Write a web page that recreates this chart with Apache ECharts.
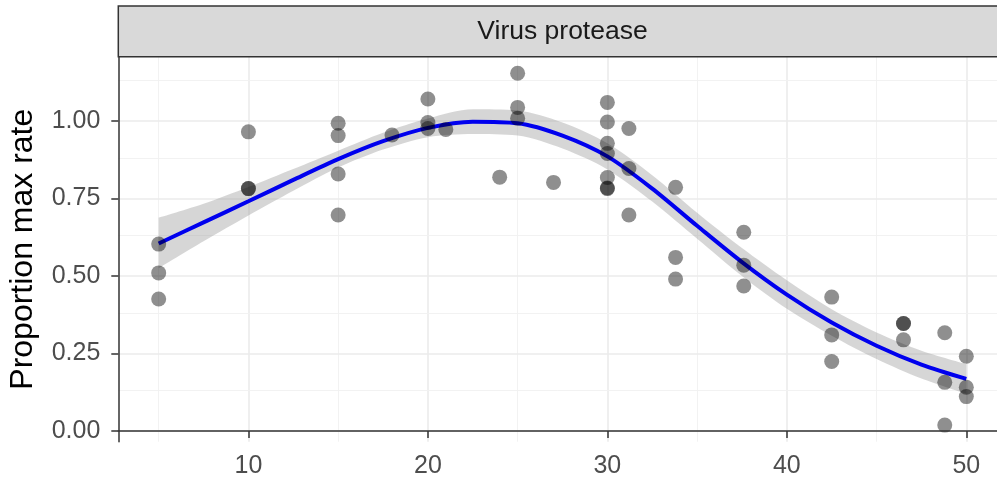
<!DOCTYPE html>
<html>
<head>
<meta charset="utf-8">
<script src="https://cdn.jsdelivr.net/npm/echarts@6/dist/echarts.min.js"></script>
<style>
  html, body { margin: 0; padding: 0; background: #fff; }
  #chart { width: 997px; height: 484px; }
</style>
</head>
<body>
<div id="chart"></div>
<script>
// ---- data ----
const panelTitle = 'Virus protease';
const yTitle = 'Proportion max rate';

const pointX = [5, 5, 5,
  10, 10, 10,
  15, 15, 15, 15,
  18,
  20, 20, 20,
  21, 24,
  25, 25, 25,
  27,
  30, 30, 30, 30, 30, 30, 30,
  31.2, 31.2, 31.2,
  33.8, 33.8, 33.8,
  37.6, 37.6, 37.6,
  42.5, 42.5, 42.5,
  46.5, 46.5, 46.5,
  48.8, 48.8, 48.8,
  50, 50, 50];
const pointY = [0.603, 0.510, 0.426,
  0.965, 0.782, 0.782,
  0.993, 0.953, 0.829, 0.697,
  0.955,
  1.071, 0.995, 0.976,
  0.973, 0.819,
  1.154, 1.044, 1.009,
  0.802,
  1.060, 0.997, 0.928, 0.895, 0.818, 0.784, 0.782,
  0.976, 0.847, 0.697,
  0.786, 0.560, 0.490,
  0.641, 0.535, 0.468,
  0.432, 0.310, 0.224,
  0.347, 0.347, 0.294,
  0.317, 0.157, 0.019,
  0.241, 0.141, 0.111];

const fitX     = [5, 7.5, 10, 12.5, 15, 17.5, 20, 22.5, 25, 27.5, 30, 32.5, 35, 37.5, 40, 42.5, 45, 47.5, 50];
const fitY     = [0.605, 0.673, 0.741, 0.810, 0.877, 0.935, 0.978, 0.998, 0.993, 0.953, 0.886, 0.782, 0.662, 0.545, 0.440, 0.350, 0.275, 0.214, 0.168];
const fitUpper = [0.688, 0.733, 0.787, 0.845, 0.904, 0.962, 1.008, 1.038, 1.034, 0.995, 0.928, 0.825, 0.704, 0.590, 0.486, 0.393, 0.318, 0.259, 0.216];
const fitLower = [0.525, 0.612, 0.695, 0.775, 0.850, 0.908, 0.948, 0.958, 0.953, 0.911, 0.844, 0.740, 0.620, 0.500, 0.394, 0.307, 0.232, 0.169, 0.120];

const xTicks = [10, 20, 30, 40, 50];
const xMinor = [5, 15, 25, 35, 45];
const yTicks = [0, 0.25, 0.5, 0.75, 1.0];
const yMinor = [0.125, 0.375, 0.625, 0.875, 1.125];

// ---- build chart ----
const FONT = 'Liberation Sans, Arial, sans-serif';
const chart = echarts.init(document.getElementById('chart'), null, { renderer: 'canvas' });

const points = pointX.map((x, i) => [x, pointY[i]]);
const fitLine = fitX.map((x, i) => [x, fitY[i]]);
// band series: value first, x second (so that the stack runs on the y value)
const bandBase = fitX.map((x, i) => [fitLower[i], x]);
const bandWidth = fitX.map((x, i) => [+(fitUpper[i] - fitLower[i]).toFixed(4), x]);

const gridLines = [];
xTicks.forEach(v => gridLines.push({ xAxis: v, lineStyle: { color: '#EBEBEB', width: 1.6, type: 'solid' } }));
xMinor.forEach(v => gridLines.push({ xAxis: v, lineStyle: { color: '#F0F0F0', width: 0.9, type: 'solid' } }));
yTicks.forEach(v => gridLines.push({ yAxis: v, lineStyle: { color: '#EBEBEB', width: 1.6, type: 'solid' } }));
yMinor.forEach(v => gridLines.push({ yAxis: v, lineStyle: { color: '#F0F0F0', width: 0.9, type: 'solid' } }));

const GL = 118.3, GT = 56.7, GR = 0, GB = 42.3;

chart.setOption({
  animation: false,
  backgroundColor: '#ffffff',
  grid: { left: GL, top: GT, right: GR, bottom: GB, containLabel: false, outerBoundsMode: 'none' },
  xAxis: {
    type: 'value', min: 2.75, max: 51.71, z: 10,
    axisLine: { show: true, lineStyle: { color: '#333333', width: 1.5 } },
    axisTick: { show: true, length: 7, customValues: xTicks, lineStyle: { color: '#333333', width: 1.5 } },
    axisLabel: { customValues: xTicks, color: '#4D4D4D', fontSize: 25, fontFamily: FONT, margin: 12 },
    splitLine: { show: false }, minorSplitLine: { show: false }
  },
  yAxis: {
    type: 'value', min: -0.0345, max: 1.2075, z: 10,
    name: yTitle, nameLocation: 'middle', nameGap: 79,
    nameTextStyle: { color: '#000000', fontSize: 32, fontFamily: FONT },
    axisLine: { show: true, lineStyle: { color: '#333333', width: 1.5 } },
    axisTick: { show: true, length: 7, customValues: yTicks, lineStyle: { color: '#333333', width: 1.5 } },
    axisLabel: { customValues: yTicks, color: '#4D4D4D', fontSize: 25, fontFamily: FONT, margin: 18,
      formatter: v => v.toFixed(2) },
    splitLine: { show: false }, minorSplitLine: { show: false }
  },
  graphic: [
    { type: 'rect', z: 100, shape: { x: GL, y: 6, width: 1010 - GL, height: GT - 6 },
      style: { fill: '#D9D9D9', stroke: '#333333', lineWidth: 1.5 } },
    { type: 'text', z: 101, x: 562.5, y: (GT + 6) / 2,
      style: { text: panelTitle, fill: '#1A1A1A', font: '26.5px ' + FONT, align: 'center', verticalAlign: 'middle' } }
  ],
  series: [
    { type: 'line', z: 0, data: fitLine, symbol: 'none', lineStyle: { opacity: 0 }, silent: true,
      markLine: { silent: true, symbol: 'none', z: 0, label: { show: false }, data: gridLines, animation: false } },
    { type: 'line', z: 2, data: bandBase, encode: { x: 1, y: 0 }, stack: 'band', symbol: 'none', smooth: 0.3,
      lineStyle: { opacity: 0 }, silent: true },
    { type: 'line', z: 2, data: bandWidth, encode: { x: 1, y: 0 }, stack: 'band', symbol: 'none', smooth: 0.3,
      lineStyle: { opacity: 0 }, areaStyle: { color: 'rgba(153,153,153,0.4)', opacity: 1 }, silent: true },
    { type: 'line', z: 3, data: fitLine, symbol: 'none', smooth: 0.3,
      lineStyle: { color: '#0000EE', width: 4 } },
    { type: 'scatter', z: 4, data: points, symbolSize: 15,
      itemStyle: { color: 'rgba(0,0,0,0.55)' } }
  ]
});
</script>
</body>
</html>
